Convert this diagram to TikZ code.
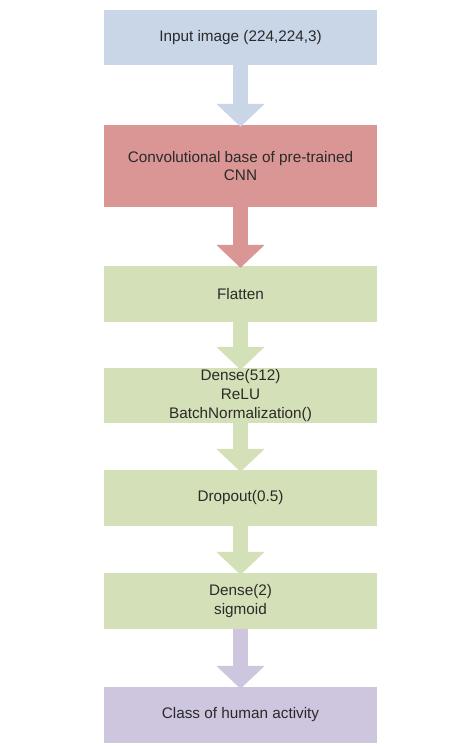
\documentclass[tikz,border=0pt]{standalone}
\usepackage{fontspec}
\setmainfont{Liberation Sans}
\usetikzlibrary{arrows.meta}
\definecolor{cblue}{HTML}{C8D6E8}
\definecolor{cred}{HTML}{DA9694}
\definecolor{cgreen}{HTML}{D4E0B7}
\definecolor{cpurple}{HTML}{CEC5DE}
\definecolor{ctext}{HTML}{2A2A2A}
\tikzset{
  layerbox/.style={draw=none, minimum width=273pt, inner sep=0pt, align=center,
    text=ctext, font=\fontsize{15.3}{18.7}\selectfont},
  flowarrow/.style={line width=15pt, -{Triangle[width=47pt,length=23pt]}, shorten >=-2pt}
}
\begin{document}
\begin{tikzpicture}[x=1pt,y=1pt]
\useasboundingbox (0,0) rectangle (474,-749);
\fill[white] (0,0) rectangle (474,-749);
\node[layerbox, fill=cblue, minimum height=55pt] (in) at (240.5,-37.5) {Input image (224,224,3)};
\node[layerbox, fill=cred, minimum height=82pt] (conv) at (240.5,-166) {Convolutional base of pre-trained\\CNN};
\node[layerbox, fill=cgreen, minimum height=56pt] (flat) at (240.5,-294) {Flatten};
\node[layerbox, fill=cgreen, minimum height=55pt] (dense1) at (240.5,-395.5) {Dense(512)\\ReLU\\BatchNormalization()};
\node[layerbox, fill=cgreen, minimum height=56pt] (drop) at (240.5,-498) {Dropout(0.5)};
\node[layerbox, fill=cgreen, minimum height=56pt] (dense2) at (240.5,-601) {Dense(2)\\sigmoid};
\node[layerbox, fill=cpurple, minimum height=56pt] (out) at (240.5,-715) {Class of human activity};
\draw[flowarrow, cblue] (in.south) -- (conv.north);
\draw[flowarrow, cred] (conv.south) -- (flat.north);
\draw[flowarrow, cgreen] (flat.south) -- (dense1.north);
\draw[flowarrow, cgreen] (dense1.south) -- (drop.north);
\draw[flowarrow, cgreen] (drop.south) -- (dense2.north);
\draw[flowarrow, cpurple] (dense2.south) -- (out.north);
\end{tikzpicture}
\end{document}
